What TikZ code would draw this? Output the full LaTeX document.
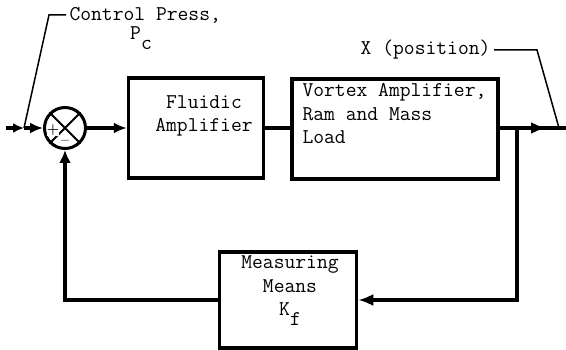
\documentclass[tikz,border=0pt]{standalone}
\usepackage{fontspec}
\usetikzlibrary{arrows.meta}

\tikzset{
  block/.style={draw, line width=3.5pt, inner sep=0pt},
  leader/.style={line width=1.5pt},
  sig/.style={line width=3.5pt},
  signmark/.style={inner sep=0.3pt, fill=white, font=\rmfamily\bfseries\fontsize{14}{14}\selectfont},
}

\begin{document}
\begin{tikzpicture}[>=Latex, x=1pt, y=-1pt,
    font=\ttfamily\fontsize{21}{23.5}\selectfont]
  % Configurable parameters
  \def\liney{128}
  \def\sub#1{\raisebox{-1.1ex}{#1}}
  %
  \useasboundingbox (0,0) rectangle (566,350);
  %
  % Blocks
  \node[block, minimum width=135pt, minimum height=100pt] (fluid) at (196,128) {};
  \node[align=center] (fluidlbl) at (204,116) {Fluidic\\Amplifier};
  \node[block, minimum width=206pt, minimum height=100pt] (vortex) at (395,129) {};
  \node[align=left, anchor=north west] (vortexlbl) at (299,80)
    {Vortex Amplifier,\\Ram and Mass\\Load};
  \node[block, minimum width=137pt, minimum height=96pt] (meas) at (288,300) {};
  \node[align=center] (measlbl) at (290,291) {Measuring\\Means\\K\sub{f}};
  %
  % Summing point
  \node[draw, circle, line width=3pt, minimum size=41pt, inner sep=0pt]
    (sum) at (65,\liney) {};
  \draw[line width=2pt] (sum.north west) -- (sum.south east);
  \draw[line width=2pt] (sum.north east) -- (sum.south west);
  \node[signmark] (plus) at (53,130) {+};
  \node[signmark] (minus) at (65,142) {--};
  %
  % Points on the signal lines
  \coordinate (in) at (6,\liney);
  \coordinate (ptin) at (24,\liney);
  \coordinate (br) at (517,\liney);
  \coordinate (outarr) at (546,\liney);
  \coordinate (ptout) at (559,\liney);
  \coordinate (out) at (566,\liney);
  %
  % Signal lines
  \draw[sig,-{Latex[length=11pt,width=10pt]}] (in) -- (ptin);
  \draw[sig,-{Latex[length=13pt,width=11pt]}] (ptin) -- (sum.west);
  \draw[sig,-{Latex[length=13pt,width=11pt]}] (sum.east) -- (fluid.west);
  \draw[sig] (fluid.east) -- (fluid.east -| vortex.west);
  \draw[sig] (vortex.east |- out) -- (out);
  \draw[sig,-{Latex[length=15pt,width=12pt]}] (vortex.east |- out) -- (outarr);
  \draw[sig,-{Latex[length=15pt,width=12pt]}] (br) |- (meas.east);
  \draw[sig,-{Latex[length=13pt,width=12pt]}] (meas.west) -| (sum.south);
  %
  % Labels with leaders
  \node[anchor=west] (cplbl) at (66,15) {Control Press,};
  \node (pclbl) at (141,38) {P\sub{c}};
  \draw[leader] (ptin) -- (49,15) -- (cplbl.west);
  \node[anchor=east] (xlbl) at (494,50) {X (position)};
  \draw[leader] (ptout) -- (537,50) -- (xlbl.east);
  %
\end{tikzpicture}
\end{document}
